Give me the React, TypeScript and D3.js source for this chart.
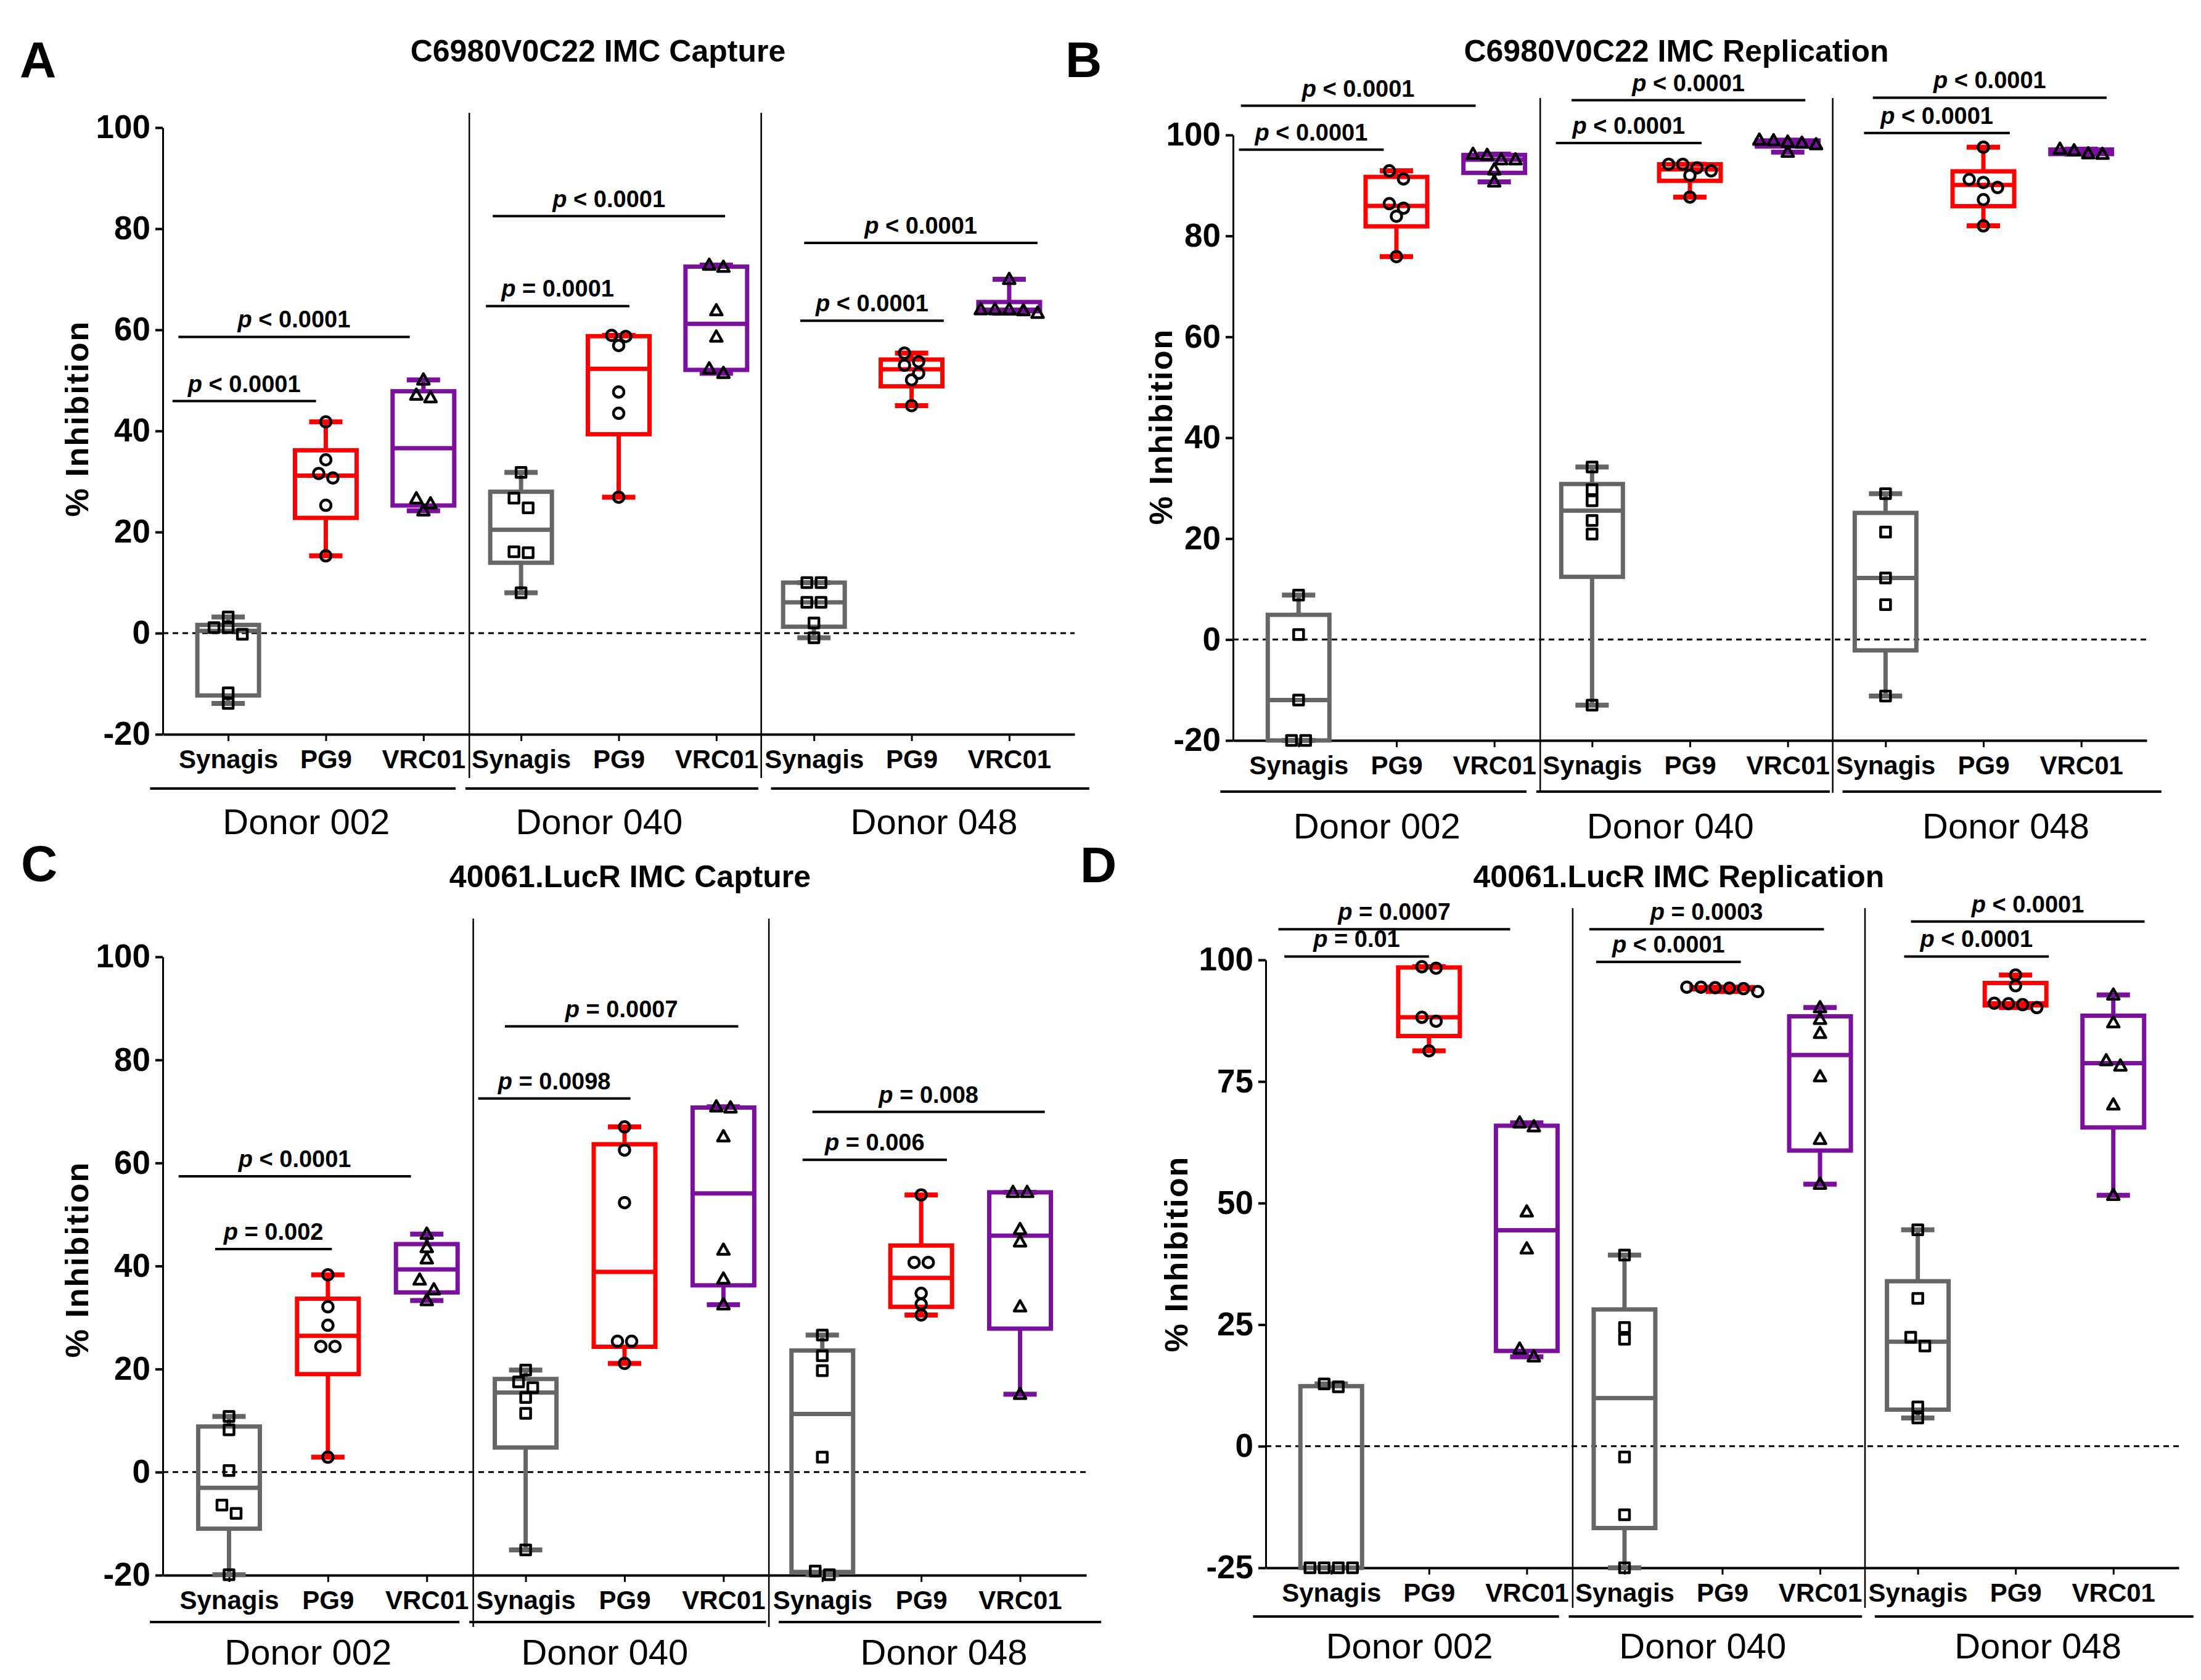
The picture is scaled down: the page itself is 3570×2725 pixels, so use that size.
import React, { useEffect, useRef } from 'react';
import * as d3 from 'd3';

const groups = ['Synagis', 'PG9', 'VRC01'];
const donors = ['Donor 002', 'Donor 040', 'Donor 048'];
const ticks120 = [-20, 0, 20, 40, 60, 80, 100];
const ticks125 = [-25, 0, 25, 50, 75, 100];

// % inhibition, one list per column: D002 Synagis/PG9/VRC01, D040 ..., D048 ...
const c6980Capture = [
  [3.2, 1.1, 1.1, -0.2, -11.8, -13.9],
  [41.8, 34.3, 31.6, 30.7, 25.3, 15.3],
  [50.1, 47.1, 46.6, 26.6, 25.6, 24.2],
  [31.8, 26.7, 24.8, 16.1, 15.9, 8.0],
  [58.9, 58.7, 56.9, 47.7, 43.5, 26.9],
  [72.8, 72.4, 63.8, 58.6, 52.3, 51.4],
  [10.0, 10.0, 6.1, 6.1, 2.0, -0.9],
  [55.4, 53.7, 53.0, 51.4, 50.1, 45.0],
  [70.0, 64.0, 64.0, 64.0, 63.8, 63.3],
];

const c6980Replication = [
  [8.8, 1.0, -12.0, -20.0, -20.0],
  [92.9, 91.3, 86.4, 85.5, 83.9, 75.9],
  [96.2, 96.0, 95.1, 95.1, 93.1, 90.7],
  [34.2, 29.7, 27.5, 23.6, 20.9, -13.0],
  [94.2, 94.2, 93.5, 92.9, 92.0, 87.7],
  [99.0, 98.9, 98.6, 98.4, 98.1, 96.6],
  [28.9, 21.3, 12.2, 6.9, -11.2],
  [97.6, 91.2, 90.6, 89.6, 87.2, 82.0],
  [97.2, 96.9, 96.3, 96.2],
];

const lucrCapture = [
  [10.8, 8.2, 0.3, -6.4, -8.0, -19.9],
  [38.3, 32.1, 28.5, 24.4, 24.4, 2.9],
  [46.2, 43.6, 41.4, 37.3, 35.4, 33.3],
  [19.8, 17.5, 16.4, 14.5, 11.4, -15.1],
  [67.0, 62.5, 52.3, 25.4, 25.4, 21.1],
  [70.9, 70.7, 65.1, 43.1, 37.5, 32.5],
  [26.6, 22.6, 19.7, 2.9, -19.2, -19.9],
  [53.8, 40.7, 40.7, 34.7, 32.6, 30.5],
  [54.3, 54.3, 47.1, 44.7, 32.1, 15.1],
];

const lucrReplication = [
  [12.8, 12.2, -25, -25, -25, -25],
  [98.6, 98.3, 88.2, 87.4, 81.3],
  [66.5, 65.7, 48.2, 40.6, 20.0, 18.4],
  [39.3, 24.4, 22.0, -2.2, -14.1, -25],
  [94.4, 94.4, 94.3, 94.2, 94.1, 93.5],
  [90.2, 87.8, 84.9, 76.0, 63.1, 53.9],
  [44.5, 30.4, 22.4, 20.6, 8.1, 5.8],
  [96.9, 94.7, 91.1, 91.0, 90.8, 90.2],
  [92.8, 87.1, 79.3, 78.2, 70.2, 51.6],
];

// significance bars: span in column units, height in % inhibition
const pBarsA = [
  { x0: -0.57, x1: 0.9, y: 45.9, label: '< 0.0001' },
  { x0: -0.51, x1: 1.86, y: 58.6, label: '< 0.0001' },
  { x0: 2.64, x1: 4.11, y: 64.7, label: '= 0.0001' },
  { x0: 2.71, x1: 5.09, y: 82.5, label: '< 0.0001' },
  { x0: 5.86, x1: 7.33, y: 61.8, label: '< 0.0001' },
  { x0: 5.9, x1: 8.29, y: 77.2, label: '< 0.0001' },
];
const pBarsB = [
  { x0: -0.61, x1: 0.87, y: 97.1, label: '< 0.0001' },
  { x0: -0.59, x1: 1.81, y: 105.8, label: '< 0.0001' },
  { x0: 2.63, x1: 4.12, y: 98.4, label: '< 0.0001' },
  { x0: 2.79, x1: 5.18, y: 106.9, label: '< 0.0001' },
  { x0: 5.78, x1: 7.27, y: 100.4, label: '< 0.0001' },
  { x0: 5.87, x1: 8.26, y: 107.4, label: '< 0.0001' },
];
const pBarsC = [
  { x0: -0.14, x1: 1.04, y: 43.3, label: '= 0.002' },
  { x0: -0.51, x1: 1.84, y: 57.4, label: '< 0.0001' },
  { x0: 2.52, x1: 4.06, y: 72.5, label: '= 0.0098' },
  { x0: 2.79, x1: 5.15, y: 86.5, label: '= 0.0007' },
  { x0: 5.8, x1: 7.26, y: 60.6, label: '= 0.006' },
  { x0: 5.9, x1: 8.25, y: 69.9, label: '= 0.008' },
];
const pBarsD = [
  { x0: -0.48, x1: 1.0, y: 100.7, label: '= 0.01' },
  { x0: -0.54, x1: 1.83, y: 106.3, label: '= 0.0007' },
  { x0: 2.71, x1: 4.19, y: 99.6, label: '< 0.0001' },
  { x0: 2.64, x1: 5.04, y: 106.3, label: '= 0.0003' },
  { x0: 5.86, x1: 7.34, y: 100.7, label: '< 0.0001' },
  { x0: 5.93, x1: 8.32, y: 107.9, label: '< 0.0001' },
];

const colors = ['#666666', '#ff0000', '#7b0f9e'];
const FONT = 'Arial, "Liberation Sans", Helvetica, sans-serif';

const panels = [
  {
    letter: 'A', title: 'C6980V0C22 IMC Capture', values: c6980Capture, pBars: pBarsA,
    yDomain: [-20, 100], ticks: ticks120,
    layout: { left: 264, right: 1743, yHi: 207, yLo: 1191, sepTop: 183, sepBottom: 1262, donorLineY: 1279, donorLabelY: 1353, yTitleX: 143, yTitleY: 679, titleX: 970, titleY: 100, letterX: 32, letterY: 125 },
  },
  {
    letter: 'B', title: 'C6980V0C22 IMC Replication', values: c6980Replication, pBars: pBarsB,
    yDomain: [-20, 100], ticks: ticks120,
    layout: { left: 2000, right: 3482, yHi: 219, yLo: 1201, sepTop: 159, sepBottom: 1286, donorLineY: 1284, donorLabelY: 1360, yTitleX: 1901, yTitleY: 692, titleX: 2719, titleY: 100, letterX: 1728, letterY: 125 },
  },
  {
    letter: 'C', title: '40061.LucR IMC Capture', values: lucrCapture, pBars: pBarsC,
    yDomain: [-20, 100], ticks: ticks120,
    layout: { left: 264, right: 1762, yHi: 1552, yLo: 2555, sepTop: 1490, sepBottom: 2639, donorLineY: 2631, donorLabelY: 2700, yTitleX: 143, yTitleY: 2043, titleX: 1022, titleY: 1439, letterX: 34, letterY: 1429 },
  },
  {
    letter: 'D', title: '40061.LucR IMC Replication', values: lucrReplication, pBars: pBarsD,
    yDomain: [-25, 100], ticks: ticks125,
    layout: { left: 2053, right: 3534, yHi: 1557, yLo: 2543, sepTop: 1473, sepBottom: 2608, donorLineY: 2622, donorLabelY: 2690, yTitleX: 1926, yTitleY: 2034, titleX: 2723, titleY: 1439, letterX: 1752, letterY: 1431 },
  },
];

const donorSpans = [[-0.8, 2.33], [2.43, 5.43], [5.56, 8.82]];
const donorLabelPos = [0.8, 3.8, 7.23];
const separators = [2.47, 5.46];

// GraphPad style quartiles: position (n + 1) * p
const quart = (s: number[], p: number) => {
  const n = s.length;
  const pos = (n + 1) * p;
  if (pos <= 1) return s[0];
  if (pos >= n) return s[n - 1];
  const lo = Math.floor(pos);
  return s[lo - 1] + (pos - lo) * (s[lo] - s[lo - 1]);
};

// points that sit on the same level are spread sideways in a row
const spread = (vals: number[], y: (v: number) => number, gap = 23, thr = 16) => {
  const sorted = [...vals].sort((a, b) => b - a);
  const rows: number[][] = [];
  sorted.forEach((v) => {
    const last = rows[rows.length - 1];
    if (last && Math.abs(y(last[0]) - y(v)) < thr) last.push(v);
    else rows.push([v]);
  });
  const out: { v: number; dx: number }[] = [];
  rows.forEach((r) => r.forEach((v, k) => out.push({ v, dx: (k - (r.length - 1) / 2) * gap })));
  return out;
};

const drawPanel = (root: any, p: any) => {
  const L = p.layout;
  const g = root.append('g').attr('font-family', FONT);

  const y = d3.scaleLinear().domain(p.yDomain).range([L.yLo, L.yHi]);
  const xp = d3.scalePoint<string>()
    .domain(d3.range(9).map(String))
    .range([L.left, L.right])
    .padding(0.67);
  const x = d3.scaleLinear().domain([0, 8]).range([xp('0') as number, xp('8') as number]);

  // Panel letter and title
  g.append('text')
    .attr('x', L.letterX).attr('y', L.letterY)
    .attr('font-size', 82).attr('font-weight', 'bold')
    .text(p.letter);
  g.append('text')
    .attr('x', L.titleX).attr('y', L.titleY)
    .attr('text-anchor', 'middle')
    .attr('font-size', 50).attr('font-weight', 'bold')
    .text(p.title);

  // Y axis
  const yAxis = g.append('g')
    .attr('transform', `translate(${L.left},0)`)
    .call(d3.axisLeft(y).tickValues(p.ticks).tickSize(12).tickSizeOuter(0).tickPadding(8)
      .tickFormat((d: number) => String(d)));
  yAxis.select('.domain').attr('stroke-width', 3);
  yAxis.selectAll('.tick line').attr('stroke-width', 4);
  yAxis.selectAll('.tick text')
    .attr('font-size', 53).attr('font-weight', 'bold').attr('fill', '#000')
    .attr('font-family', FONT);

  // X axis
  const xAxis = g.append('g')
    .attr('transform', `translate(0,${L.yLo})`)
    .call(d3.axisBottom(xp).tickSize(11).tickSizeOuter(0).tickPadding(14)
      .tickFormat((d: string) => groups[+d % 3]));
  xAxis.select('.domain').attr('stroke-width', 4);
  xAxis.selectAll('.tick line').attr('stroke-width', 3);
  xAxis.selectAll('.tick text')
    .attr('font-size', 42).attr('font-weight', 'bold').attr('fill', '#000')
    .attr('font-family', FONT);

  // Y title
  g.append('text')
    .attr('transform', `translate(${L.yTitleX},${L.yTitleY}) rotate(-90)`)
    .attr('text-anchor', 'middle')
    .attr('font-size', 52).attr('font-weight', 'bold')
    .attr('letter-spacing', 2)
    .text('% Inhibition');

  // zero line
  g.append('line')
    .attr('x1', L.left).attr('x2', L.right)
    .attr('y1', y(0)).attr('y2', y(0))
    .attr('stroke', '#000').attr('stroke-width', 3)
    .attr('stroke-dasharray', '9 7');

  // donor separators
  g.selectAll('.sep')
    .data(separators)
    .enter()
    .append('line')
    .attr('x1', (d: number) => x(d)).attr('x2', (d: number) => x(d))
    .attr('y1', L.sepTop).attr('y2', L.sepBottom)
    .attr('stroke', '#000').attr('stroke-width', 2.5);

  // donor brackets
  g.selectAll('.donorLine')
    .data(donorSpans)
    .enter()
    .append('line')
    .attr('x1', (d: number[]) => x(d[0])).attr('x2', (d: number[]) => x(d[1]))
    .attr('y1', L.donorLineY).attr('y2', L.donorLineY)
    .attr('stroke', '#000').attr('stroke-width', 4);
  g.selectAll('.donorLabel')
    .data(donors)
    .enter()
    .append('text')
    .attr('x', (_d: string, i: number) => x(donorLabelPos[i]))
    .attr('y', L.donorLabelY)
    .attr('text-anchor', 'middle')
    .attr('font-size', 58)
    .text((d: string) => d);

  // boxes
  p.values.forEach((vals: number[], i: number) => {
    const s = [...vals].sort((a, b) => a - b);
    const q1 = quart(s, 0.25);
    const med = quart(s, 0.5);
    const q3 = quart(s, 0.75);
    const lo = s[0];
    const hi = s[s.length - 1];
    const cx = xp(String(i)) as number;
    const col = colors[i % 3];
    const bg = g.append('g').attr('stroke', col).attr('fill', 'none');

    bg.append('line').attr('x1', cx).attr('x2', cx).attr('y1', y(hi)).attr('y2', y(q3)).attr('stroke-width', 7);
    bg.append('line').attr('x1', cx).attr('x2', cx).attr('y1', y(q1)).attr('y2', y(lo)).attr('stroke-width', 7);
    [hi, lo].forEach((v) => {
      bg.append('line').attr('x1', cx - 27).attr('x2', cx + 27).attr('y1', y(v)).attr('y2', y(v)).attr('stroke-width', 8);
    });
    bg.append('rect')
      .attr('x', cx - 50).attr('width', 100)
      .attr('y', y(q3)).attr('height', Math.max(0.5, y(q1) - y(q3)))
      .attr('stroke-width', 7);
    bg.append('line').attr('x1', cx - 50).attr('x2', cx + 50).attr('y1', y(med)).attr('y2', y(med)).attr('stroke-width', 7);

    // points
    const pts = spread(vals, y);
    const pg = g.append('g').attr('stroke', '#000').attr('stroke-width', 4.5).attr('fill', 'none')
      .attr('stroke-linejoin', 'round');
    pts.forEach((pt) => {
      const px = cx + pt.dx;
      const py = y(pt.v);
      if (i % 3 === 0) {
        pg.append('rect').attr('x', px - 8).attr('y', py - 8).attr('width', 16).attr('height', 16);
      } else if (i % 3 === 1) {
        pg.append('circle').attr('cx', px).attr('cy', py).attr('r', 8.5);
      } else {
        pg.append('path').attr('d', `M${px},${py - 10}L${px + 9.5},${py + 7}L${px - 9.5},${py + 7}Z`);
      }
    });
  });

  // significance bars
  p.pBars.forEach((b: any) => {
    g.append('line')
      .attr('x1', x(b.x0)).attr('x2', x(b.x1))
      .attr('y1', y(b.y)).attr('y2', y(b.y))
      .attr('stroke', '#000').attr('stroke-width', 4);
    const t = g.append('text')
      .attr('x', (x(b.x0) + x(b.x1)) / 2)
      .attr('y', y(b.y) - 15)
      .attr('text-anchor', 'middle')
      .attr('font-size', 38).attr('font-weight', 'bold')
      .style('white-space', 'pre');
    t.append('tspan').attr('font-style', 'italic').text('p');
    t.append('tspan').text(' ' + b.label);
  });
};

export default function App() {
  const svgRef = useRef<SVGSVGElement>(null);

  useEffect(() => {
    if (!svgRef.current) return;
    const svg = d3.select(svgRef.current);
    svg.selectAll('*').remove();
    svg.append('rect').attr('width', 3570).attr('height', 2725).attr('fill', '#fff');
    panels.forEach((p) => drawPanel(svg, p));
  }, []);

  return (
    <svg
      ref={svgRef}
      width={3570}
      height={2725}
      style={{ position: 'absolute', left: 0, top: 0, display: 'block' }}
    />
  );
}
